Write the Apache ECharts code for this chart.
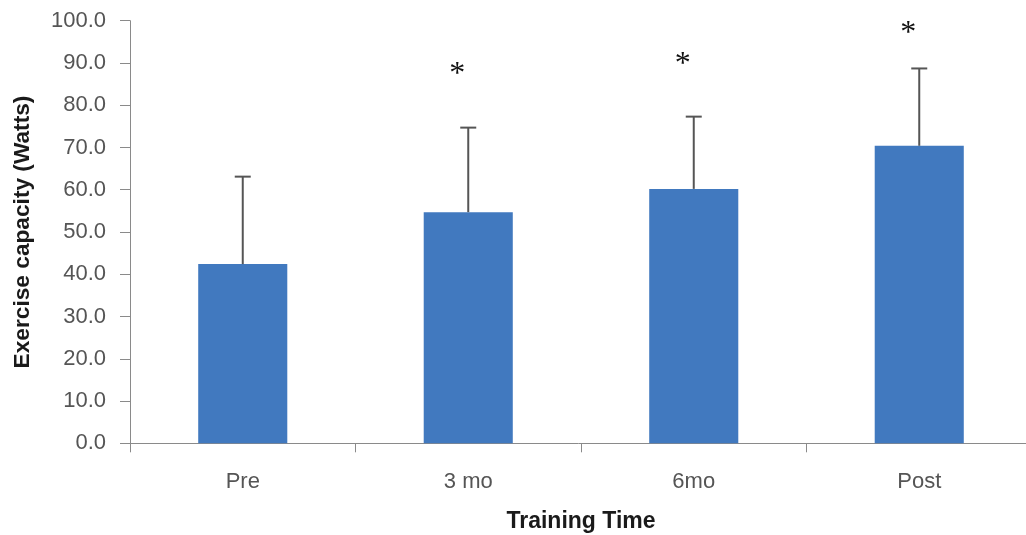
<!DOCTYPE html>
<html>
<head>
<meta charset="utf-8">
<script src="https://cdn.jsdelivr.net/npm/echarts@6/dist/echarts.min.js"></script>
<style>
html,body{margin:0;padding:0;background:#fff;}
#c{width:1026px;height:535px;}
</style>
</head>
<body>
<div id="c"></div>
<script>
const categories = ['Pre', '3 mo', '6mo', 'Post'];
const meanWatts = [42.4, 54.7, 60.2, 70.4];
const sdWatts = [20.7, 20.0, 17.1, 18.3];
const sigMarks = ['', '*', '*', '*'];
const sigLevel = [null, 88.3, 90.5, 97.8];
const yTicks = [0, 10, 20, 30, 40, 50, 60, 70, 80, 90, 100];

const chart = echarts.init(document.getElementById('c'), null, {renderer: 'canvas'});
const axisColor = '#8a8a8a';
const textColor = '#555555';

const option = {
  backgroundColor: '#ffffff',
  animation: false,
  grid: {left: 130, width: 902, top: 20.7, bottom: 91.7, containLabel: false, outerBoundsMode: 'none'},
  xAxis: {
    type: 'category',
    data: categories,
    boundaryGap: true,
    name: 'Training Time',
    nameLocation: 'middle',
    nameGap: 67,
    nameTextStyle: {fontFamily: 'Liberation Sans', fontWeight: 'bold', fontSize: 23, color: '#1a1a1a'},
    axisLine: {lineStyle: {color: axisColor, width: 1}},
    axisTick: {show: true, length: 9, alignWithLabel: false, lineStyle: {color: axisColor}},
    axisLabel: {fontFamily: 'Liberation Sans', fontSize: 22, color: textColor, margin: 28}
  },
  yAxis: {
    type: 'value',
    min: yTicks[0],
    max: yTicks[yTicks.length - 1],
    interval: 10,
    name: 'Exercise capacity (Watts)',
    nameLocation: 'middle',
    nameGap: 96,
    nameRotate: 90,
    nameTextStyle: {fontFamily: 'Liberation Sans', fontWeight: 'bold', fontSize: 22.7, color: '#1a1a1a'},
    axisLine: {show: true, lineStyle: {color: axisColor, width: 1}},
    axisTick: {show: true, length: 10, lineStyle: {color: axisColor}},
    splitLine: {show: false},
    axisLabel: {
      fontFamily: 'Liberation Sans', fontSize: 22, color: textColor, margin: 24,
      formatter: v => v.toFixed(1)
    }
  },
  series: [
    {
      type: 'bar',
      data: meanWatts,
      barWidth: '39.5%',
      itemStyle: {color: '#4179bf'},
      z: 2
    },
    {
      type: 'custom',
      z: 3,
      data: categories.map((c, i) => [i, meanWatts[i], sdWatts[i]]),
      renderItem: function (params, api) {
        const x = api.value(0), m = api.value(1), sd = api.value(2);
        const base = api.coord([x, m]);
        const top = api.coord([x, m + sd]);
        const half = 8;
        const st = {stroke: '#555555', lineWidth: 2};
        return {
          type: 'group',
          children: [
            {type: 'line', shape: {x1: base[0], y1: base[1], x2: top[0], y2: top[1]}, style: st},
            {type: 'line', shape: {x1: top[0] - half, y1: top[1], x2: top[0] + half, y2: top[1]}, style: st}
          ]
        };
      }
    },
    {
      type: 'custom',
      z: 4,
      data: categories.map((c, i) => [i, sigLevel[i] == null ? 0 : sigLevel[i]]),
      renderItem: function (params, api) {
        const i = params.dataIndex;
        if (!sigMarks[i]) return null;
        const p = api.coord([api.value(0), api.value(1)]);
        return {
          type: 'text',
          x: p[0] - 11,
          y: p[1] + 4,
          style: {
            text: sigMarks[i],
            fontFamily: 'Liberation Serif',
            fontSize: 32,
            fill: '#111111',
            align: 'center',
            verticalAlign: 'middle'
          }
        };
      }
    }
  ]
};
chart.setOption(option);
</script>
</body>
</html>
